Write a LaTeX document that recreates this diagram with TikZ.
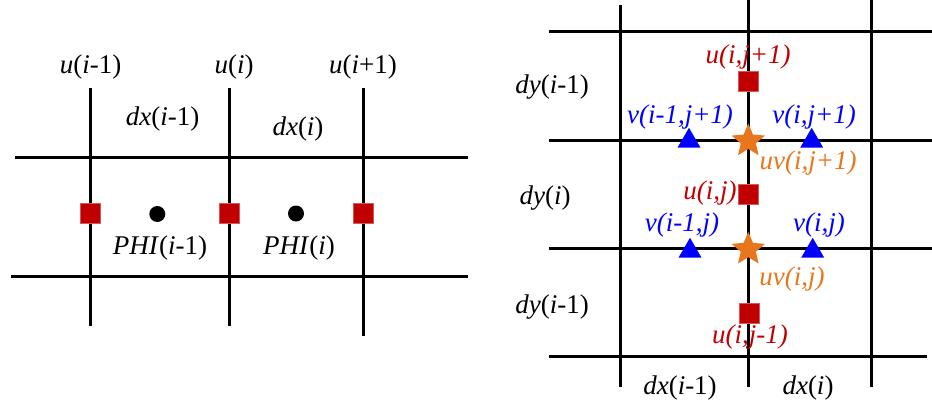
\documentclass[tikz,border=0pt]{standalone}
\usepackage{fontspec}
\setmainfont{Liberation Serif}
\usetikzlibrary{shapes.geometric}
\definecolor{ured}{HTML}{C00000}
\definecolor{vblue}{HTML}{0000FF}
\definecolor{uvorange}{HTML}{E8761C}
\begin{document}
\begin{tikzpicture}[x=1pt,y=-1pt,
  grid/.style={line width=3pt},
  lbl/.style={inner sep=0pt,font=\fontsize{27}{32}\selectfont},
  usq/.style={rectangle,fill=ured,draw=ured!65!white,line width=1pt,minimum size=20pt,inner sep=0pt},
  phidot/.style={circle,fill=black,minimum size=16pt,inner sep=0pt},
  vtri/.style={regular polygon,regular polygon sides=3,fill=vblue,minimum size=26.5pt,inner sep=0pt},
  uvstar/.style={star,star points=5,star point ratio=2.2,fill=uvorange,minimum size=35pt,inner sep=0pt}]
  \useasboundingbox (0,0) rectangle (932,405);
  % staggered 1D grid
  \foreach \x/\b in {90.7/326,229.3/326,363/336}
    \draw[grid] (\x,88) -- (\x,\b);
  \draw[grid] (15,157.7) -- (468,157.7);
  \draw[grid] (11,276.7) -- (468,276.7);
  \foreach \x [count=\k] in {90.7,229.3,363}
    \node[usq] (u\k) at (\x,213) {};
  \node[phidot] (phi1) at (157.3,214) {};
  \node[phidot] (phi2) at (296,213.5) {};
  \node[lbl] (lu1) at (90.7,67) {\textit{u}(\textit{i}-1)};
  \node[lbl] (lu2) at (234,67) {\textit{u}(\textit{i})};
  \node[lbl] (lu3) at (363,67) {\textit{u}(\textit{i}+1)};
  \node[lbl] (ldx1) at (162.7,119) {\textit{dx}(\textit{i}-1)};
  \node[lbl] (ldx2) at (298,129) {\textit{dx}(\textit{i})};
  \node[lbl] (lphi1) at (160,248) {\textit{PHI}(\textit{i}-1)};
  \node[lbl] (lphi2) at (299,248) {\textit{PHI}(\textit{i})};
  % staggered 2D grid
  \foreach \x/\t in {620/5,748.3/0,871.7/0}
    \draw[grid] (\x,\t) -- (\x,387);
  \foreach \y/\r in {31.7/932,140/932,248.3/932,356.7/927}
    \draw[grid] (549,\y) -- (\r,\y);
  \node[usq] (uij1) at (748.3,81.7) {};
  \node[usq] (uij) at (748.3,194) {};
  \node[usq] (uijm) at (749,313) {};
  \node[vtri] (vim1j1) at (689,141) {};
  \node[vtri] (vij1) at (811.7,141) {};
  \node[vtri] (vim1j) at (690,251) {};
  \node[vtri] (vij) at (812.7,251) {};
  \node[uvstar] (uvij1) at (748.3,141) {};
  \node[uvstar] (uvij) at (748.3,249.3) {};
  \node[lbl,text=ured] (luij1) at (748,57) {\textit{u(i,j+1)}};
  \node[lbl,text=ured] (luij) at (710,193) {\textit{u(i,j)}};
  \node[lbl,text=ured] (luijm) at (750,337) {\textit{u(i,j-1)}};
  \node[lbl,text=vblue] (lvim1j1) at (680,117) {\textit{v(i-1,j+1)}};
  \node[lbl,text=vblue] (lvij1) at (814,117) {\textit{v(i,j+1)}};
  \node[lbl,text=vblue] (lvim1j) at (682,225) {\textit{v(i-1,j)}};
  \node[lbl,text=vblue] (lvij) at (819,225) {\textit{v(i,j)}};
  \node[lbl,text=uvorange] (luvij1) at (808,163) {\textit{uv(i,j+1)}};
  \node[lbl,text=uvorange] (luvij) at (792,279) {\textit{uv(i,j)}};
  \node[lbl] (ldy1) at (552,87) {\textit{dy}(\textit{i}-1)};
  \node[lbl] (ldy2) at (545,198) {\textit{dy}(\textit{i})};
  \node[lbl] (ldy3) at (552,307) {\textit{dy}(\textit{i}-1)};
  \node[lbl] (ldx3) at (680,388) {\textit{dx}(\textit{i}-1)};
  \node[lbl] (ldx4) at (808,388) {\textit{dx}(\textit{i})};
\end{tikzpicture}
\end{document}
